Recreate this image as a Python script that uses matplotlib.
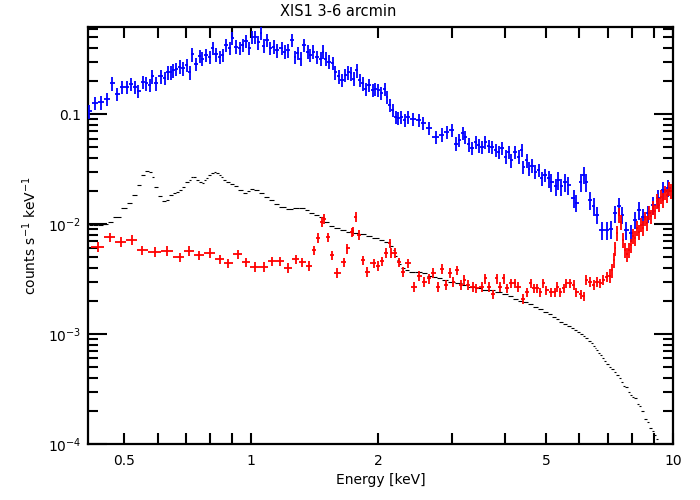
import numpy as np
import matplotlib
matplotlib.use('Agg')
import matplotlib.pyplot as plt
from matplotlib.ticker import FixedLocator, NullFormatter

# ---------------- data ----------------
blue_e = [0.413, 0.426, 0.44, 0.455, 0.468, 0.48, 0.494, 0.507, 0.518, 0.529,
          0.54, 0.554, 0.563, 0.574, 0.583, 0.595, 0.61, 0.624, 0.633, 0.644,
          0.652, 0.664, 0.678, 0.688, 0.705, 0.714, 0.725, 0.74, 0.754, 0.766,
          0.782, 0.797, 0.81, 0.824, 0.841, 0.855, 0.87, 0.888, 0.9, 0.92,
          0.938, 0.955, 0.97, 0.99, 1.005, 1.02, 1.04, 1.055, 1.07, 1.09,
          1.11, 1.13, 1.15, 1.18, 1.2, 1.22, 1.25, 1.27, 1.29, 1.31,
          1.33, 1.36, 1.38, 1.40, 1.43, 1.46, 1.48, 1.50, 1.53, 1.56,
          1.58, 1.61, 1.64, 1.67, 1.70, 1.72, 1.75, 1.78, 1.81, 1.84,
          1.87, 1.9, 1.94, 1.97, 2.0, 2.03, 2.07, 2.1, 2.13, 2.17,
          2.2, 2.23, 2.27, 2.31, 2.35, 2.42, 2.5, 2.56, 2.64, 2.74,
          2.83, 2.91, 2.99, 3.06, 3.11, 3.17, 3.22, 3.28, 3.33, 3.41,
          3.46, 3.52, 3.59, 3.66, 3.72, 3.8, 3.86, 3.93, 4.01, 4.08,
          4.14, 4.21, 4.31, 4.38, 4.42, 4.5, 4.55, 4.62, 4.72, 4.8,
          4.88, 4.96, 5.07, 5.15, 5.27, 5.35, 5.44, 5.56, 5.65, 5.81,
          5.9, 6.04, 6.14, 6.23, 6.37, 6.48, 6.59, 6.77, 6.96, 7.14,
          7.30, 7.46, 7.58, 7.75, 7.96, 8.14, 8.32, 8.5, 8.74, 8.98,
          9.23, 9.48, 9.74]
blue_v = [0.106, 0.126, 0.128, 0.137, 0.19, 0.152, 0.176, 0.176, 0.187, 0.176,
          0.162, 0.195, 0.19, 0.184, 0.22, 0.19, 0.22, 0.212, 0.24, 0.24,
          0.25, 0.256, 0.27, 0.26, 0.28, 0.24, 0.35, 0.284, 0.336, 0.32,
          0.344, 0.33, 0.4, 0.35, 0.33, 0.344, 0.424, 0.4, 0.49, 0.41,
          0.4, 0.424, 0.46, 0.4, 0.5, 0.5, 0.45, 0.55, 0.42, 0.47,
          0.4, 0.41, 0.38, 0.4, 0.37, 0.38, 0.47, 0.33, 0.36, 0.32,
          0.424, 0.37, 0.344, 0.37, 0.33, 0.32, 0.37, 0.32, 0.30, 0.29,
          0.24, 0.22, 0.204, 0.226, 0.24, 0.235, 0.21, 0.25, 0.204, 0.19,
          0.17, 0.184, 0.165, 0.17, 0.165, 0.155, 0.17, 0.143, 0.121, 0.109,
          0.094, 0.092, 0.094, 0.088, 0.094, 0.09, 0.088, 0.083, 0.075, 0.062,
          0.065, 0.069, 0.0715, 0.054, 0.058, 0.067, 0.062, 0.053, 0.049, 0.056,
          0.052, 0.05, 0.056, 0.051, 0.05, 0.047, 0.045, 0.049, 0.041, 0.045,
          0.038, 0.045, 0.041, 0.047, 0.033, 0.038, 0.032, 0.034, 0.03, 0.031,
          0.026, 0.028, 0.026, 0.024, 0.022, 0.025, 0.022, 0.024, 0.0226, 0.0172,
          0.0156, 0.024, 0.028, 0.024, 0.0165, 0.0145, 0.0121, 0.0088, 0.0088, 0.009,
          0.0125, 0.0145, 0.0121, 0.0088, 0.0083, 0.0109, 0.0134, 0.0117, 0.0125, 0.0149,
          0.0172, 0.0204, 0.0213]

red_e = [0.432, 0.462, 0.49, 0.52, 0.55, 0.59, 0.63, 0.677, 0.71, 0.75,
         0.797, 0.841, 0.88, 0.93, 0.97, 1.02, 1.07, 1.12, 1.17, 1.225,
         1.275, 1.32, 1.373, 1.41, 1.44, 1.47, 1.49, 1.52, 1.55, 1.6,
         1.66, 1.69, 1.73, 1.74, 1.77, 1.80, 1.84, 1.88, 1.95, 2.0,
         2.04, 2.09, 2.13, 2.15, 2.19, 2.24, 2.29, 2.35, 2.43, 2.5,
         2.57, 2.64, 2.7, 2.77, 2.83, 2.9, 2.96, 3.01, 3.07, 3.14,
         3.2, 3.26, 3.35, 3.42, 3.52, 3.59, 3.67, 3.74, 3.82, 3.88,
         3.97, 4.03, 4.12, 4.21, 4.3, 4.4, 4.5, 4.6, 4.67, 4.75,
         4.85, 4.93, 5.01, 5.15, 5.24, 5.3, 5.41, 5.5, 5.59, 5.71,
         5.81, 5.9, 6.04, 6.14, 6.23, 6.37, 6.48, 6.59, 6.73, 6.84,
         6.96, 7.1, 7.18, 7.26, 7.3, 7.38, 7.46, 7.54, 7.62, 7.71,
         7.79, 7.88, 7.96, 8.05, 8.14, 8.23, 8.32, 8.41, 8.5, 8.59,
         8.69, 8.78, 8.88, 8.98, 9.08, 9.18, 9.28, 9.38, 9.48, 9.58,
         9.69, 9.8, 9.9]
red_v = [0.0062, 0.0076, 0.0069, 0.0072, 0.0058, 0.0056, 0.0057, 0.005, 0.0057, 0.0052,
         0.0055, 0.0048, 0.0044, 0.0053, 0.0045, 0.0041, 0.0041, 0.0046, 0.0046, 0.0040,
         0.0048, 0.0045, 0.0042, 0.0058, 0.0075, 0.0105, 0.0112, 0.0076, 0.0052, 0.0036,
         0.0045, 0.006, 0.0084, 0.0086, 0.0116, 0.008, 0.0047, 0.0037, 0.0044, 0.0042,
         0.0046, 0.0055, 0.0067, 0.0055, 0.0055, 0.0045, 0.0037, 0.0044, 0.0027, 0.0034,
         0.003, 0.0032, 0.0036, 0.0027, 0.0039, 0.0028, 0.0036, 0.003, 0.0038, 0.0028,
         0.0031, 0.0028, 0.0027, 0.0026, 0.0027, 0.0032, 0.0027, 0.0023, 0.0032, 0.0027,
         0.0032, 0.0026, 0.0029, 0.0029, 0.0027, 0.0021, 0.0024, 0.0029, 0.0026, 0.0026,
         0.0024, 0.0029, 0.0025, 0.0024, 0.0024, 0.0027, 0.0024, 0.0026, 0.0029, 0.0029,
         0.0028, 0.0024, 0.0023, 0.0022, 0.0031, 0.003, 0.0028, 0.003, 0.0029, 0.0031,
         0.0033, 0.0034, 0.0038, 0.0047, 0.006, 0.0083, 0.0121, 0.0105, 0.0072, 0.0058,
         0.0053, 0.0058, 0.0064, 0.0078, 0.0075, 0.0092, 0.0085, 0.0099, 0.0092, 0.0112,
         0.0102, 0.0128, 0.0118, 0.0141, 0.0131, 0.0162, 0.0150, 0.0178, 0.0165, 0.0195,
         0.0183, 0.0210, 0.0200]

model_e = [0.417, 0.428, 0.439, 0.451, 0.462, 0.48, 0.501, 0.515, 0.529, 0.541,
           0.553, 0.566, 0.578, 0.584, 0.594, 0.607, 0.624, 0.634, 0.644, 0.658,
           0.666, 0.681, 0.69, 0.706, 0.714, 0.722, 0.734, 0.745, 0.758, 0.766,
           0.775, 0.784, 0.797, 0.81, 0.819, 0.832, 0.841, 0.85, 0.865, 0.879,
           0.898, 0.922, 0.943, 0.964, 0.985, 1.001, 1.029, 1.057, 1.086, 1.116,
           1.147, 1.185, 1.231, 1.28, 1.32, 1.355, 1.39, 1.43, 1.47, 1.51,
           1.55, 1.6, 1.64, 1.71, 1.77, 1.84, 1.9, 1.97, 2.04, 2.09,
           2.15, 2.19, 2.2, 2.23, 2.25, 2.28, 2.34, 2.4, 2.5, 2.58,
           2.65, 2.72, 2.8, 2.87, 2.97, 3.11, 3.21, 3.33, 3.46, 3.59,
           3.72, 3.86, 4.01, 4.12, 4.23, 4.35, 4.47, 4.6, 4.72, 4.85,
           4.99, 5.1, 5.21, 5.32, 5.44, 5.56, 5.65, 5.78, 5.87, 5.97,
           6.07, 6.17, 6.23, 6.34, 6.41, 6.48, 6.55, 6.62, 6.69, 6.76,
           6.84, 6.91, 6.99, 7.1, 7.18, 7.3, 7.38, 7.5, 7.58, 7.66,
           7.75, 7.88, 7.96, 8.05, 8.14, 8.27, 8.36, 8.45, 8.59, 8.74,
           8.83, 8.98, 9.08, 9.18, 9.28]
model_v = [0.0098, 0.0098, 0.0099, 0.0101, 0.0104, 0.0116, 0.0139, 0.0155, 0.0184, 0.0226,
           0.0279, 0.0303, 0.0297, 0.0268, 0.0217, 0.018, 0.0162, 0.0165, 0.0184, 0.0191,
           0.0196, 0.0204, 0.0217, 0.0241, 0.0251, 0.0268, 0.0268, 0.0251, 0.0241, 0.0236,
           0.0251, 0.0262, 0.0279, 0.029, 0.0297, 0.029, 0.0279, 0.0268, 0.0251, 0.0241,
           0.0231, 0.0222, 0.0204, 0.0191, 0.02, 0.0208, 0.0204, 0.0191, 0.0176, 0.0165,
           0.0152, 0.0143, 0.0137, 0.0139, 0.0139, 0.0134, 0.0125, 0.0121, 0.0116, 0.0104,
           0.0096, 0.0092, 0.0088, 0.00846, 0.0083, 0.0081, 0.0078, 0.0074, 0.0072, 0.0069,
           0.0063, 0.0058, 0.0051, 0.0047, 0.0043, 0.004, 0.0038, 0.0037, 0.0037, 0.0036,
           0.0034, 0.0033, 0.0032, 0.0031, 0.003, 0.0029, 0.0028, 0.0027, 0.0026, 0.0025,
           0.0025, 0.0024, 0.0023, 0.0022, 0.0021, 0.002, 0.00195, 0.00187, 0.00176, 0.00168,
           0.00159, 0.00152, 0.00143, 0.00137, 0.00129, 0.00123, 0.00118, 0.00113, 0.00109, 0.00104,
           0.001, 0.00096, 0.00092, 0.00086, 0.00083, 0.00078, 0.00075, 0.00072, 0.00067, 0.00064,
           0.0006, 0.00057, 0.00053, 0.0005, 0.00048, 0.00045, 0.00042, 0.0004, 0.00037, 0.00034,
           0.00033, 0.0003, 0.00028, 0.00027, 0.00026, 0.00023, 0.00022, 0.0002, 0.00017, 0.00016,
           0.00014, 0.00013, 0.00012, 0.00011, 0.0001]

x_major = [0.5, 1, 2, 5, 10]
x_major_labels = ['0.5', '1', '2', '5', '10']
x_minor = [0.6, 0.7, 0.8, 0.9, 3, 4, 6, 7, 8, 9]
y_major = [1e-4, 1e-3, 1e-2, 0.1]
y_major_labels = [r'$10^{-4}$', r'$10^{-3}$', r'$10^{-2}$', '0.1']

title = 'XIS1 3-6 arcmin'
xlabel = 'Energy [keV]'
ylabel = r'counts s$^{-1}$ keV$^{-1}$'


def bin_edges(e):
    e = np.asarray(e, float)
    mid = np.sqrt(e[:-1] * e[1:])
    lo = np.concatenate([[e[0] ** 2 / mid[0]], mid])
    hi = np.concatenate([mid, [e[-1] ** 2 / mid[-1]]])
    return lo, hi


fig = plt.figure(figsize=(7, 5), dpi=100)
ax = fig.add_axes([88 / 700, 1 - 444 / 500, (673 - 88) / 700, (444 - 27) / 500])
ax.set_xscale('log')
ax.set_yscale('log')

# model histogram (horizontal segments only)
mlo, mhi = bin_edges(model_e)
ax.hlines(model_v, mlo, mhi, colors='black', linewidth=0.8, zorder=2)

# blue data
be = np.asarray(blue_e)
bv = np.asarray(blue_v)
blo, bhi = bin_edges(be)
bfrac = np.where(be > 5, 0.18, 0.14)
ax.errorbar(be, bv, xerr=[be - blo, bhi - be], yerr=bfrac * bv,
            fmt='none', ecolor='#0000ff', elinewidth=1.3, capsize=0, zorder=3)

# red data
re_ = np.asarray(red_e)
rv = np.asarray(red_v)
rlo, rhi = bin_edges(re_)
rfrac = np.where(re_ > 7, 0.15, 0.1)
ax.errorbar(re_, rv, xerr=[re_ - rlo, rhi - re_], yerr=rfrac * rv,
            fmt='none', ecolor='#ff0000', elinewidth=1.3, capsize=0, zorder=4)

ax.set_xlim(0.41, 10)
ax.set_ylim(1e-4, 0.62)

ax.xaxis.set_major_locator(FixedLocator(x_major))
ax.set_xticklabels(x_major_labels)
ax.xaxis.set_minor_locator(FixedLocator(x_minor))
ax.xaxis.set_minor_formatter(NullFormatter())
ax.yaxis.set_major_locator(FixedLocator(y_major))
ax.set_yticklabels(y_major_labels)
ax.yaxis.set_minor_locator(FixedLocator(
    [m * d for d in [1e-4, 1e-3, 1e-2, 0.1] for m in range(2, 10) if m * d < 0.62]))
ax.yaxis.set_minor_formatter(NullFormatter())

ax.tick_params(axis='both', which='both', direction='in', top=True, right=True,
               width=1.5, labelsize=10, colors='black')
ax.tick_params(axis='x', which='both', length=8, pad=7)
ax.tick_params(axis='y', which='major', length=14, pad=5)
ax.tick_params(axis='y', which='minor', length=7)
for s in ax.spines.values():
    s.set_linewidth(1.6)

fig.text(338 / 700, 1 - 12 / 500, title, ha='center', va='center', fontsize=10.5)
ax.set_xlabel(xlabel, fontsize=10, labelpad=4)
ax.set_ylabel(ylabel, fontsize=10, labelpad=6)

fig.savefig('out.png', dpi=100)
